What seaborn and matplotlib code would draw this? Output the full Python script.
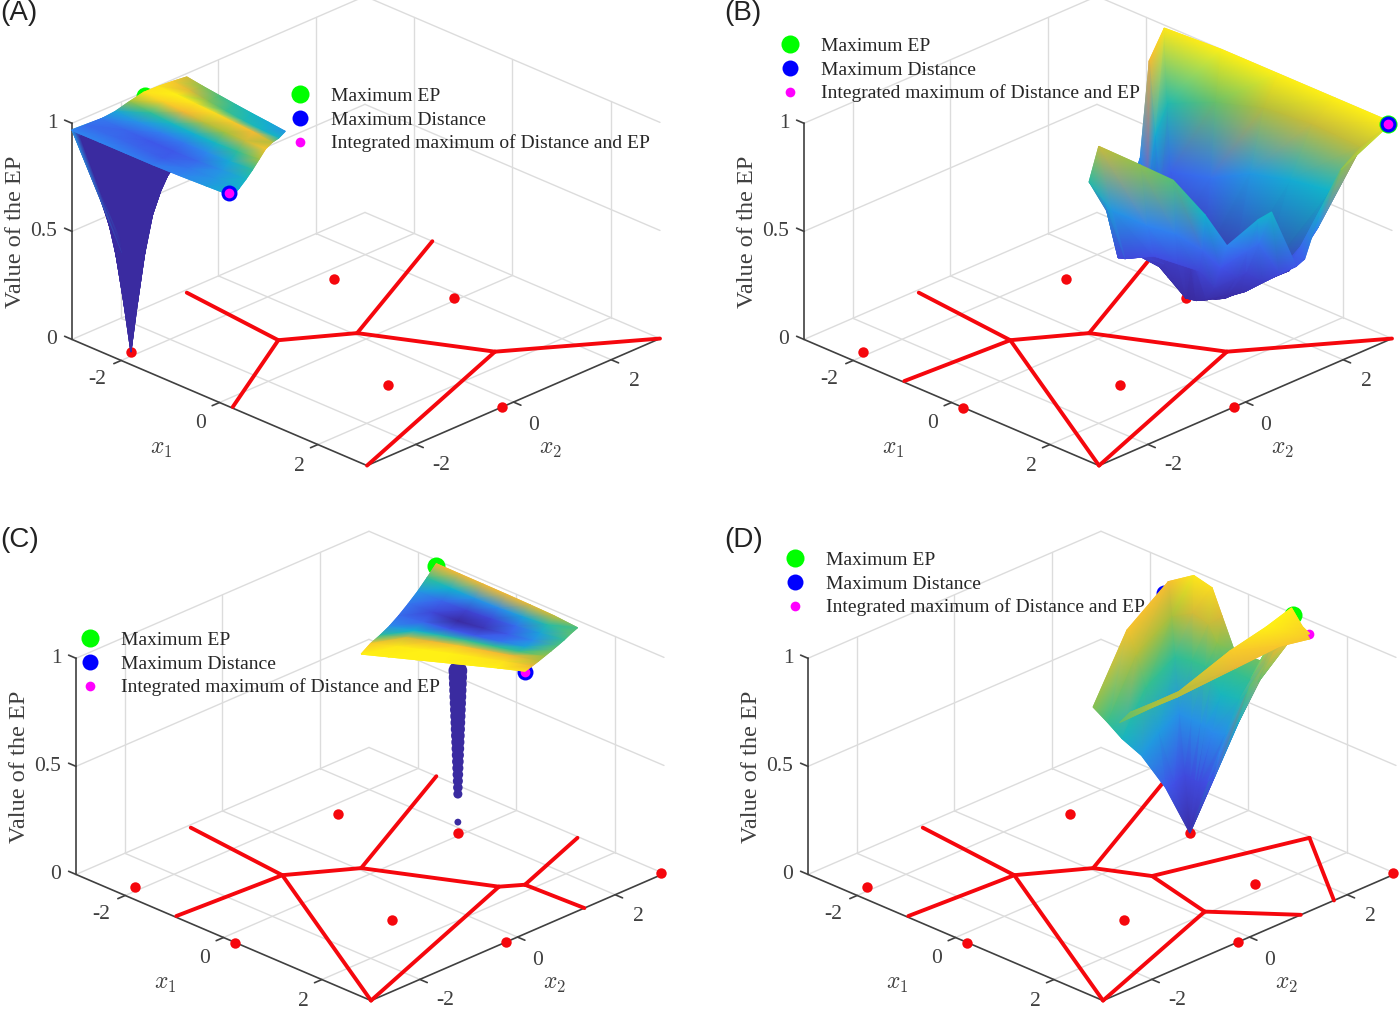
import numpy as np
import matplotlib
matplotlib.use('Agg')
import matplotlib.pyplot as plt
from matplotlib.colors import Normalize, PowerNorm
from mpl_toolkits.mplot3d import proj3d
import seaborn as sns

# Voronoi vertices (x1, x2)
V_A = (-2.93, -0.72)
V_B = (-0.87, -0.92)
V_C = (-0.23, 0.05)
V_D = (-1.63, 3.0)
V_E = (1.62, 1.01)
V_F = (3.0, 3.0)
V_G = (3.0, -3.0)
V_H = (0.24, -2.97)
V_I = (-0.99, -2.97)
V_J = (1.84, 1.32)
V_K = (1.27, 2.97)
V_L = (3.0, 1.37)
V_M = (0.56, 0.46)
V_N = (1.94, 0.15)
V_O = (3.0, 1.05)
V_P = (3.0, 1.73)

lines_a = [(V_A, V_B), (V_H, V_B), (V_B, V_C), (V_C, V_D), (V_C, V_E), (V_E, V_F), (V_E, V_G)]
lines_b = [(V_A, V_B), (V_I, V_B), (V_B, V_G), (V_B, V_C), (V_C, V_D), (V_C, V_E), (V_E, V_F), (V_E, V_G)]
lines_c = [(V_A, V_B), (V_I, V_B), (V_B, V_G), (V_B, V_C), (V_C, V_D), (V_C, V_E), (V_E, V_G),
           (V_E, V_J), (V_J, V_K), (V_J, V_L)]
lines_d = [(V_A, V_B), (V_I, V_B), (V_B, V_G), (V_B, V_C), (V_C, V_D), (V_C, V_M), (V_M, V_N),
           (V_N, V_G), (V_N, V_O), (V_M, V_K), (V_K, V_P)]

red_a = [(-2.1, -2.7), (-1.74, 1.09), (-0.07, 1.87), (1.31, -0.86), (3.0, -0.23)]
red_b = [(-2.1, -2.7), (0.24, -3.0), (-1.74, 1.09), (-0.07, 1.87), (1.31, -0.86), (3.0, -0.23)]
red_c = red_b + [(2.95, 2.99)]
red_d = red_b + [(1.8, 1.33), (2.95, 2.99)]

# maximum EP, maximum distance, integrated maximum (x1, x2, value)
best_a = [(-2.9, -1.6, 1.0), (0.2, -3.0, 0.99), (0.2, -3.0, 0.99)]
best_b = [(3.0, 2.91, 1.0), (3.0, 2.91, 1.0), (3.0, 2.91, 1.0)]
best_c = [(-1.55, 2.92, 0.99), (1.84, 1.32, 0.985), (1.84, 1.32, 0.985)]
best_d = [(1.2, 2.7, 1.05), (-1.55, 2.83, 0.87), (1.27, 2.97, 0.945)]

labels = ['Maximum EP', 'Maximum Distance', 'Integrated maximum of Distance and EP']
ticks = [-2, 0, 2]
x1_label_shift = [0.27, 0.36, 0.38]
x2_label_shift = [0.27, 0.37, 0.31]

# panel A, funnel below the red point
funnel_rim_a = [(-3, -3), (-3, -2.2), (-2.4, -1.9), (-1.7, -2), (-1.2, -2.4), (-1.2, -2.8), (-2, -3)]
funnel_r_a = [0, 0.12, 0.25, 0.37, 0.5, 0.62, 0.75, 0.87, 1]
funnel_z_a = [[0, 0.22, 0.43, 0.60, 0.72, 0.83, 0.90, 0.945, 0.97],
              [0, 0.25, 0.47, 0.63, 0.75, 0.85, 0.91, 0.94, 0.96],
              [0, 0.22, 0.45, 0.60, 0.72, 0.82, 0.89, 0.93, 0.95],
              [0, 0.22, 0.44, 0.60, 0.72, 0.81, 0.88, 0.93, 0.95],
              [0, 0.27, 0.50, 0.66, 0.77, 0.85, 0.91, 0.94, 0.95],
              [0, 0.25, 0.48, 0.63, 0.75, 0.84, 0.90, 0.94, 0.95],
              [0, 0.07, 0.15, 0.23, 0.30, 0.36, 0.42, 0.49, 0.55]]

# panel A, plateau of the cell
plateau_corners_a = [(-3, -3), V_H, (-2.93, -0.72), (-0.78, -0.87)]
plateau_z_a = [[0.967, 0.967, 0.966, 0.965, 0.967, 0.971, 0.975],
               [0.963, 0.963, 0.962, 0.961, 0.965, 0.970, 0.975],
               [0.965, 0.962, 0.960, 0.960, 0.963, 0.970, 0.977],
               [0.973, 0.969, 0.966, 0.965, 0.968, 0.974, 0.983],
               [0.992, 0.983, 0.977, 0.975, 0.977, 0.983, 0.993],
               [1.008, 1.005, 1.001, 0.995, 0.993, 0.997, 1.003],
               [1.008, 1.010, 1.008, 1.007, 1.004, 1.002, 0.995],
               [1.004, 0.999, 0.991, 0.985, 0.980, 0.977, 0.977],
               [0.998, 0.991, 0.986, 0.981, 0.977, 0.974, 0.970]]

# panel C, plateau and the thin column of points under it
plateau_corners_c = [V_C, V_J, V_D, V_K]
plateau_z_c = [[0.990, 0.990, 0.990, 0.990, 0.990, 0.990, 0.988],
               [0.9855, 0.989, 0.990, 0.990, 0.989, 0.988, 0.983],
               [0.970, 0.981, 0.983, 0.985, 0.984, 0.983, 0.979],
               [0.959, 0.964, 0.9675, 0.970, 0.970, 0.971, 0.9765],
               [0.955, 0.954, 0.952, 0.953, 0.956, 0.962, 0.974],
               [0.956, 0.950, 0.945, 0.947, 0.953, 0.959, 0.972],
               [0.960, 0.954, 0.9495, 0.950, 0.955, 0.962, 0.971],
               [0.970, 0.964, 0.960, 0.959, 0.962, 0.968, 0.973],
               [0.983, 0.983, 0.983, 0.983, 0.982, 0.980, 0.972]]
column_z_c = [0.05, 0.18, 0.21, 0.24, 0.27, 0.30, 0.33, 0.36, 0.39, 0.42, 0.45, 0.48, 0.51,
              0.54, 0.57, 0.60, 0.63, 0.66, 0.69, 0.72, 0.75]

# panels B and D, rays from the red point to the cell border
ray_r = [0, 0.25, 0.5, 0.7, 0.85, 1]
ray_z_b = [[0.05, 0.16, 0.40, 0.68, 0.986],
           [0.03, 0.10, 0.45, 0.78, 1.0],
           [0.02, 0.10, 0.55, 0.85, 1.0],
           [0.03, 0.12, 0.60, 0.87, 1.0],
           [0.08, 0.22, 0.63, 0.86, 1.0],
           [0.05, 0.18, 0.30, 0.50, 0.80],
           [0.05, 0.16, 0.28, 0.42, 0.63],
           [0.05, 0.14, 0.24, 0.32, 0.40],
           [0.055, 0.14, 0.23, 0.30, 0.37],
           [0.05, 0.14, 0.28, 0.45, 0.63],
           [0.05, 0.13, 0.26, 0.42, 0.60],
           [0.05, 0.12, 0.22, 0.35, 0.49],
           [0.20, 0.25, 0.29, 0.42, 0.62],
           [0.27, 0.29, 0.31, 0.48, 0.76],
           [0.27, 0.30, 0.33, 0.50, 0.81],
           [0.20, 0.28, 0.30, 0.55, 0.87],
           [0.18, 0.28, 0.30, 0.60, 0.70],
           [0.10, 0.20, 0.25, 0.28, 0.35],
           [0.08, 0.18, 0.28, 0.38, 0.52],
           [0.06, 0.18, 0.35, 0.60, 0.92]]
ray_z_d = [[0.25, 0.44, 0.55, 0.65, 0.745],
           [0.22, 0.45, 0.65, 0.80, 0.91],
           [0.20, 0.42, 0.63, 0.78, 0.90],
           [0.20, 0.42, 0.65, 0.84, 0.98],
           [0.20, 0.42, 0.65, 0.82, 0.96],
           [0.20, 0.42, 0.62, 0.75, 0.85],
           [0.20, 0.40, 0.55, 0.65, 0.71],
           [0.22, 0.42, 0.57, 0.65, 0.72],
           [0.25, 0.50, 0.68, 0.85, 1.0],
           [0.38, 0.69, 0.85, 0.92, 0.945]]
wing_r_d = [0.85, 1]
wing_z_d = [[0.71, 0.69], [0.78, 0.78], [0.80, 0.80], [0.93, 0.87], [1.0, 0.92], [1.06, 0.92]]

sns.set_theme(style='white', rc={'font.family': ['Liberation Serif', 'DejaVu Serif'],
                                 'mathtext.fontset': 'cm'})
parula = sns.blend_palette(['#3a2ba0', '#4150e8', '#2f85f0', '#10b4cc', '#35bf90',
                            '#a0c040', '#f5b735', '#fff015'], n_colors=256, as_cmap=True)
TEXT = '#404040'
GRID = '#dcdcdc'


def edge(p, q, fractions):
    p, q = np.array(p), np.array(q)
    return np.array([p + f * (q - p) for f in fractions])


def grid_triangles(rows, cols):
    tris = []
    for i in range(rows - 1):
        for j in range(cols - 1):
            a, b = i * cols + j, i * cols + j + 1
            c, d = a + cols, b + cols
            tris += [(a, b, d), (a, d, c)]
    return np.array(tris)


def project(ax, xs, ys, zs):
    tx, ty, tz = proj3d.proj_transform(np.asarray(xs, float), np.asarray(ys, float), np.asarray(zs, float),
                                       ax.get_proj())
    return np.asarray(tx), np.asarray(ty), np.asarray(tz)


def draw_mesh(ax, xs, ys, zs, norm, zorder):
    rows, cols = zs.shape
    tris = grid_triangles(rows, cols)
    tx, ty, tz = project(ax, xs.ravel(), ys.ravel(), zs.ravel())
    # far triangles first, the gouraud triangles are painted in this order
    tris = tris[np.argsort(-tz[tris].mean(axis=1))]
    # painted twice so the soft triangle edges do not wash out
    for k in range(2):
        mesh = ax.tripcolor(tx, ty, tris, zs.ravel(), shading='gouraud', cmap=parula, norm=norm, zorder=zorder)
        mesh.do_3d_projection = lambda: 0


def draw_quad(ax, corners, table, norm, zorder):
    table = np.array(table)
    c = np.array(corners, dtype=float)
    v, u = np.meshgrid(np.linspace(0, 1, table.shape[0]), np.linspace(0, 1, table.shape[1]), indexing='ij')
    pts = [(1 - v) * ((1 - u) * c[0, k] + u * c[1, k]) + v * ((1 - u) * c[2, k] + u * c[3, k]) for k in (0, 1)]
    draw_mesh(ax, pts[0], pts[1], table, norm, zorder)


def draw_fan(ax, centre, rim, radii, table, norm, zorder, closed=True):
    rim = np.array(rim, dtype=float)
    table = np.array(table, dtype=float)
    if table.shape[1] < len(radii):
        table = np.column_stack([np.zeros(len(table)), table])
    if closed:
        rim = np.vstack([rim, rim[:1]])
        table = np.vstack([table, table[:1]])
    r = np.array(radii)[None, :]
    xs = centre[0] + r * (rim[:, 0, None] - centre[0])
    ys = centre[1] + r * (rim[:, 1, None] - centre[1])
    draw_mesh(ax, xs, ys, table, norm, zorder)


def label(ax, x1, x2, z, s, **kw):
    tx, ty, _ = project(ax, [x1], [x2], [z])
    ax.text2D(tx[0], ty[0], s, color=TEXT, **kw)


def draw_frame(ax):
    for t in ticks:
        ax.plot([t, t], [-3, 3], [0, 0], color=GRID, lw=1, zorder=1)
        ax.plot([-3, 3], [t, t], [0, 0], color=GRID, lw=1, zorder=1)
        ax.plot([-3, -3], [t, t], [0, 1], color=GRID, lw=1, zorder=1)
        ax.plot([t, t], [3, 3], [0, 1], color=GRID, lw=1, zorder=1)
    for z in [0, 0.5, 1]:
        ax.plot([-3, -3], [-3, 3], [z, z], color=GRID, lw=1, zorder=1)
        ax.plot([-3, 3], [3, 3], [z, z], color=GRID, lw=1, zorder=1)
    ax.plot([-3, -3], [-3, -3], [0, 1], color=TEXT, lw=1.2, zorder=2)
    ax.plot([-3, 3], [-3, -3], [0, 0], color=TEXT, lw=1.2, zorder=2)
    ax.plot([3, 3], [-3, 3], [0, 0], color=TEXT, lw=1.2, zorder=2)
    for t, d1, d2 in zip(ticks, x1_label_shift, x2_label_shift):
        ax.plot([t, t], [-3, -3.15], [0, 0], color=TEXT, lw=1.2, zorder=2)
        ax.plot([3, 3.15], [t, t], [0, 0], color=TEXT, lw=1.2, zorder=2)
        label(ax, t + d1, -3.76, 0.012, str(t), fontsize=15.5, ha='center', va='center')
        label(ax, 3.78, t - d2, 0.005, str(t), fontsize=15.5, ha='center', va='center')
    for z, s in zip([0, 0.5, 1], ['0', '0.5', '1']):
        ax.plot([-3, -3.15], [-3, -3], [z, z], color=TEXT, lw=1.2, zorder=2)
        label(ax, -3.15, -3.15, z, s, fontsize=15.5, ha='right', va='center')
    label(ax, 0.52, -4.72, 0, r'$x_1$', fontsize=17, ha='center', va='center')
    label(ax, 4.5, -0.76, 0, r'$x_2$', fontsize=17, ha='center', va='center')
    label(ax, -3.58, -3.58, 0.5, 'Value of the EP', fontsize=17.5, rotation=90, ha='center', va='center')


def draw_floor(ax, lines, red):
    for p, q in lines:
        ax.plot([p[0], q[0]], [p[1], q[1]], [0, 0], color='#f5070d', lw=2.8, zorder=3, solid_capstyle='round')
    for x1, x2 in red:
        ax.plot([x1], [x2], [0], 'o', color='#f5070d', ms=7.5, mew=0, zorder=3)


def draw_best(ax, best, layer, legend_at):
    handles = []
    for (x1, x2, z), col, ms, lab, zo in zip(best, ['#00ff00', '#0000ff', '#ff00ff'], [13, 11.5, 7], labels, layer):
        handles += ax.plot([x1], [x2], [z], 'o', color=col, ms=ms, mew=0, zorder=zo, label=lab)
    ax.legend(handles=handles, loc='center left', frameon=False, fontsize=14, borderpad=0, borderaxespad=0,
              handlelength=1.3, handletextpad=0.95, labelspacing=0.3, labelcolor='#262626',
              bbox_to_anchor=(legend_at[0] / W, 1 - legend_at[1] / H), bbox_transform=fig.transFigure)


def place(ax, left_px, right_px):
    # move the square 3D axes until the floor corners sit at these pixels
    tx, ty, _ = project(ax, [-3, 3], [-3, 3], [0, 0])
    pts = np.column_stack([tx, ty])
    ax.apply_aspect()
    p = ax.transData.transform(pts)
    k = (right_px[0] - left_px[0]) / (p[1, 0] - p[0, 0])
    pos = ax.get_position()
    ax.set_position([pos.x0, pos.y0, pos.width * k, pos.height * k])
    ax.apply_aspect()
    p = ax.transData.transform(pts)
    pos = ax.get_position()
    mid_x = (left_px[0] + right_px[0]) / 2 - p.mean(axis=0)[0]
    mid_y = H - (left_px[1] + right_px[1]) / 2 - p.mean(axis=0)[1]
    ax.set_position([pos.x0 + mid_x / W, pos.y0 + mid_y / H, pos.width, pos.height])


W, H = 1400, 1009
fig = plt.figure(figsize=(W / 100, H / 100), dpi=100)


def new_panel(left_px, right_px):
    ax = fig.add_axes([0.1, 0.1, 0.6, 0.6 * W / H], projection='3d', proj_type='ortho', computed_zorder=False)
    ax.set_xlim(-3, 3)
    ax.set_ylim(-3, 3)
    ax.set_zlim(0, 1)
    ax.view_init(elev=25.5, azim=-45.2)
    ax.set_box_aspect((1, 1, 0.576))
    ax.set_axis_off()
    ax.patch.set_alpha(0)
    ax.set_autoscale_on(False)
    place(ax, left_px, right_px)
    return ax


# panel A
ax = new_panel((72, 338), (660, 340))
draw_frame(ax)
draw_floor(ax, lines_a, red_a)
norm_a = Normalize(0.95, 1.01)
draw_fan(ax, red_a[0], funnel_rim_a, funnel_r_a, funnel_z_a, norm_a, 5)
draw_quad(ax, plateau_corners_a, plateau_z_a, norm_a, 5.1)
draw_best(ax, best_a, [4, 7, 7.1], (287.5, 120))

# panel B
ax = new_panel((804, 338), (1392, 340))
draw_frame(ax)
draw_floor(ax, lines_b, red_b)
rim_b = np.vstack([edge(V_D, V_F, [0, 0.25, 0.5, 0.75]),
                   edge(V_F, V_E, [0, 0.31, 0.43, 0.53, 0.58, 0.73, 0.81]),
                   edge(V_E, V_C, [0, 0.16, 0.39, 0.63, 0.93]),
                   edge(V_C, V_D, [0, 0.35, 0.68, 0.8])])
draw_fan(ax, red_b[3], rim_b, ray_r, ray_z_b, PowerNorm(1.8, 0, 1), 5)
draw_best(ax, best_b, [7, 7.1, 7.2], (777.5, 70))

# panel C
ax = new_panel((76, 873), (664, 875))
draw_frame(ax)
draw_floor(ax, lines_c, red_c)
ax.scatter([red_c[3][0]] * len(column_z_c), [red_c[3][1]] * len(column_z_c), column_z_c,
           s=[((6 + 17 * z) * 0.72) ** 2 for z in column_z_c], color=parula(0.0), depthshade=False,
           linewidths=0, zorder=4.5)
draw_quad(ax, plateau_corners_c, plateau_z_c, Normalize(0.945, 0.99), 5)
draw_best(ax, best_c, [4, 4.1, 4.2], (77.5, 664))

# panel D
ax = new_panel((808, 873), (1396, 875))
draw_frame(ax)
draw_floor(ax, lines_d, red_d)
rim_d = np.vstack([edge(V_C, V_D, [0, 0.45]),
                   edge(V_D, V_K, [0, 0.18, 0.31, 0.38, 0.47, 0.66, 0.84, 1])])
norm_d = PowerNorm(1.3, 0, 1)
draw_fan(ax, red_d[3], rim_d, ray_r, ray_z_d, norm_d, 5, closed=False)
wing_d = np.vstack([edge(V_C, V_M, [0.45, 1]), edge(V_M, V_K, [0.16, 0.54, 0.81, 1])])
draw_fan(ax, red_d[3], wing_d, wing_r_d, wing_z_d, norm_d, 5.1, closed=False)
draw_best(ax, best_d, [4, 4.1, 4.2], (782.5, 584))

for s, x, y in [('(A)', 0, 13), ('(B)', 724, 13), ('(C)', 0, 540), ('(D)', 724, 540)]:
    fig.text(x / W, 1 - y / H, s, family='Liberation Sans', fontsize=20, color='#222222', ha='left', va='center')

fig.savefig('out.png', dpi=100)
